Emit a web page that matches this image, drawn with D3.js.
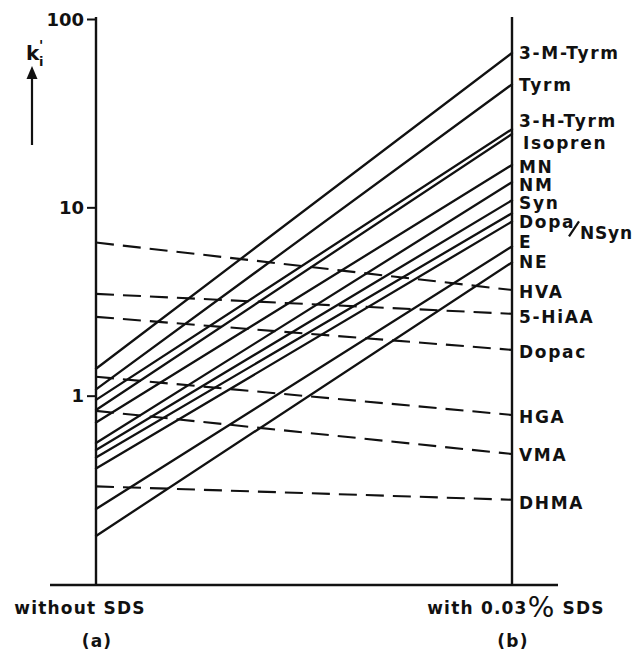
<!DOCTYPE html>
<html>
<head>
<meta charset="utf-8">
<script src="https://cdn.jsdelivr.net/npm/d3@7"></script>
<style>
  html, body { margin: 0; padding: 0; background: #fff; }
  svg { display: block; }
  text { font-family: "DejaVu Sans", sans-serif; font-weight: bold; fill: #111; }
</style>
</head>
<body>
<svg id="chart" width="636" height="650"></svg>
<script>
// Capacity factors k'_i without SDS (a) and with 0.03% SDS (b)
const conditions = ["a", "b"];
const conditionLabels = ["without SDS", "with 0.03% SDS"];
const conditionTags = ["(a)", "(b)"];

// Amines: retention rises with SDS (solid lines)
const amineNames = ["3-M-Tyrm", "Tyrm", "3-H-Tyrm", "Isopren", "MN", "NM", "Syn", "Dopa", "NSyn", "E", "NE"];
const amineWithout = [1.39, 1.08, 0.95, 0.84, 0.72, 0.56, 0.515, 0.47, 0.41, 0.25, 0.18];
const amineWith    = [66, 45, 26, 24.5, 16.8, 13.6, 10.9, 9.3, 8.4, 6.2, 5.1];

// Acids: retention drops slightly with SDS (dashed lines)
const acidNames = ["HVA", "5-HiAA", "Dopac", "HGA", "VMA", "DHMA"];
const acidWithout = [6.5, 3.47, 2.62, 1.26, 0.83, 0.33];
const acidWith    = [3.64, 2.72, 1.75, 0.79, 0.49, 0.28];

const yTicks = [1, 10, 100];

const svg = d3.select("#chart");

const x = d3.scalePoint().domain(conditions).range([96, 512]);
const y = d3.scaleLog().domain([0.1, 100]).range([584, 19]);

const line = d3.line().x(d => x(d.c)).y(d => y(d.v));

// label placement tweaks (pixels) so neighbouring names do not collide
const labelNudge = {
  "3-M-Tyrm": 0, "Tyrm": 1, "3-H-Tyrm": -8, "Isopren": 9, "MN": 2, "NM": 3,
  "Syn": 3, "E": -4, "NE": 0, "HVA": 2, "5-HiAA": 3, "Dopac": 2,
  "HGA": 2, "VMA": 1, "DHMA": 3
};

// solid lines
const amines = amineNames.map((n, i) => ({ name: n, pts: [{ c: "a", v: amineWithout[i] }, { c: "b", v: amineWith[i] }] }));
svg.append("g").selectAll("path").data(amines).join("path")
  .attr("d", d => line(d.pts))
  .attr("fill", "none").attr("stroke", "#111").attr("stroke-width", 2.3)
  .attr("stroke-linecap", "round");

// dashed lines
const acids = acidNames.map((n, i) => ({ name: n, pts: [{ c: "a", v: acidWithout[i] }, { c: "b", v: acidWith[i] }] }));
svg.append("g").selectAll("path").data(acids).join("path")
  .attr("d", d => line(d.pts))
  .attr("fill", "none").attr("stroke", "#111").attr("stroke-width", 2.1)
  .attr("stroke-dasharray", "18,9");

// left axis
const leftAxis = d3.axisLeft(y).tickValues(yTicks).tickFormat(d3.format("d")).tickSize(9).tickSizeOuter(0);
const gL = svg.append("g").attr("transform", `translate(${x("a")},0)`).call(leftAxis);
gL.select(".domain").remove();
gL.selectAll(".tick line").attr("stroke", "#111").attr("stroke-width", 2);
gL.selectAll(".tick text").attr("font-size", 18).attr("x", -12).attr("dy", "0.35em")
  .style("font-family", "DejaVu Sans, sans-serif").style("font-weight", "bold").attr("fill", "#111");

// vertical axes
const yTop = y(100) - 2, yBottom = y(0.1) + 1;
conditions.forEach(c => {
  svg.append("line").attr("x1", x(c)).attr("x2", x(c)).attr("y1", yTop).attr("y2", yBottom)
    .attr("stroke", "#111").attr("stroke-width", 2.4);
});

// baseline
svg.append("line").attr("x1", x("a") - 46).attr("x2", x("b") + 46)
  .attr("y1", yBottom).attr("y2", yBottom).attr("stroke", "#111").attr("stroke-width", 2.4);

// right-hand name labels
const labelX = x("b") + 7;
const lab = svg.append("g").attr("font-size", 17).attr("letter-spacing", 1.7);
amines.forEach((d, i) => {
  if (d.name === "Dopa" || d.name === "NSyn") return;
  lab.append("text").attr("x", labelX + (d.name === "Isopren" ? 4 : 0))
    .attr("y", y(amineWith[i]) + (labelNudge[d.name] || 0)).attr("dy", "0.35em").text(d.name);
});
// Dopa / NSyn share one label row
{
  const iD = amineNames.indexOf("Dopa"), iN = amineNames.indexOf("NSyn");
  const yD = y(amineWith[iD]) + 9, yN = y(amineWith[iN]) + 11;
  lab.append("text").attr("x", labelX).attr("y", yD).attr("dy", "0.35em").text("Dopa");
  lab.append("line").attr("x1", labelX + 50).attr("y1", yD + 14).attr("x2", labelX + 60).attr("y2", yD - 1)
    .attr("stroke", "#111").attr("stroke-width", 2.2);
  lab.append("text").attr("x", labelX + 61).attr("y", yN).attr("dy", "0.35em").attr("letter-spacing", 0.8).text("NSyn");
}
acids.forEach((d, i) => {
  lab.append("text").attr("x", labelX).attr("y", y(acidWith[i]) + (labelNudge[d.name] || 0))
    .attr("dy", "0.35em").text(d.name);
});

// condition labels below the baseline
const bottomLab = svg.append("g").attr("font-size", 17).attr("letter-spacing", 1.2).attr("text-anchor", "middle");
bottomLab.append("text").attr("x", x("a") - 16).attr("y", yBottom + 29).text(conditionLabels[0]);
{
  const t = bottomLab.append("text").attr("x", x("b") + 4).attr("y", yBottom + 29);
  t.append("tspan").text("with 0.03");
  t.append("tspan").attr("font-size", 28).attr("font-weight", "normal").attr("dy", 3).text("%");
  t.append("tspan").attr("dy", -3).text(" SDS");
}
conditionTags.forEach((tag, i) => {
  bottomLab.append("text").attr("x", x(conditions[i]) + 1).attr("y", yBottom + 62).text(tag);
});

// y-axis title k'_i with upward arrow
const title = svg.append("g");
title.append("text").attr("x", 26).attr("y", 60).attr("font-size", 20).text("k");
title.append("text").attr("x", 39).attr("y", 50).attr("font-size", 14).text("'");
title.append("text").attr("x", 39).attr("y", 66).attr("font-size", 13).text("i");
title.append("line").attr("x1", 32).attr("x2", 32).attr("y1", 145).attr("y2", 76)
  .attr("stroke", "#111").attr("stroke-width", 2.2);
title.append("path").attr("d", "M32,66 L26.5,79 L37.5,79 Z").attr("fill", "#111");
</script>
</body>
</html>
